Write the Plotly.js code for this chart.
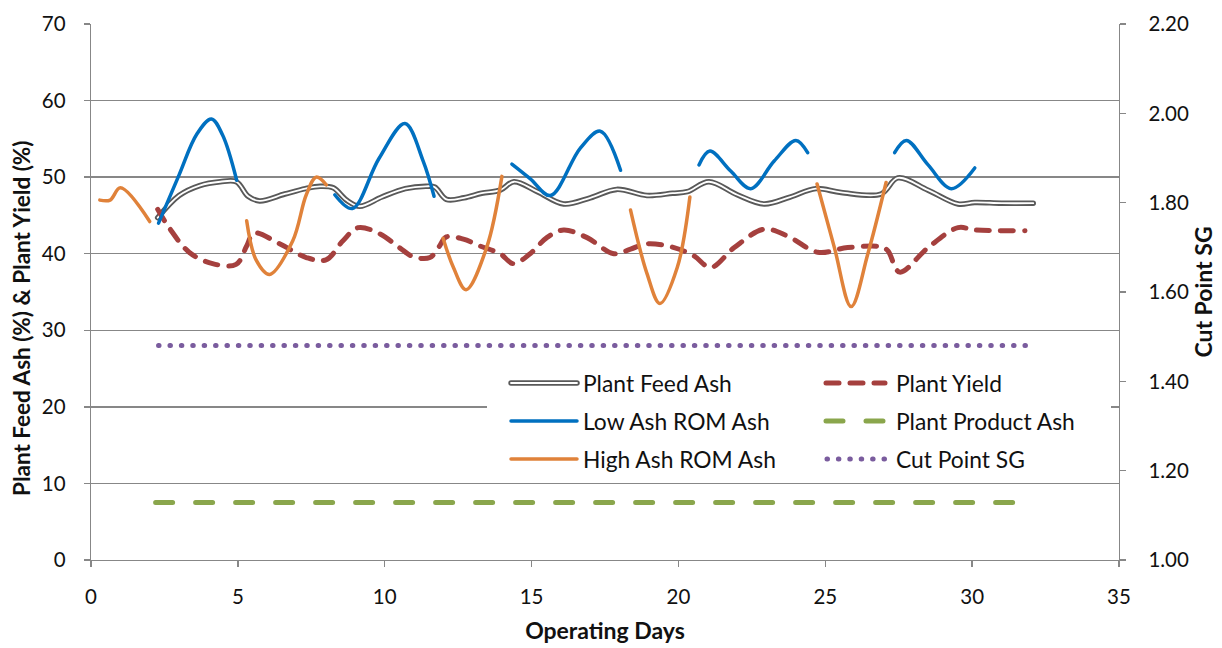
<!DOCTYPE html>
<html>
<head>
<meta charset="utf-8">
<script src="https://cdn.plot.ly/plotly-3.0.1.min.js"></script>
<style>
  html, body { margin: 0; padding: 0; background: #fff; }
  #chart { width: 1222px; height: 648px; }
  /* rounded ends on every series line and legend key */
  .js-line, .shapelayer path { stroke-linecap: round; }
</style>
</head>
<body>
<div id="chart"></div>
<script>
// ---- Plant Feed Ash (%) ----
const feedDays = [2.27, 3.0, 3.7, 4.4, 4.95, 5.35, 5.74, 6.6, 7.3, 7.8, 8.25, 8.7, 9.15, 9.9, 10.7, 11.4, 11.7, 12.1, 12.7, 13.3, 13.93, 14.4, 15.2, 16.09, 17.0, 17.9, 18.93, 19.8, 20.3, 21.04, 22.0, 22.92, 23.8, 24.68, 25.54, 26.9, 27.47, 28.5, 29.52, 30.09, 31.0, 32.08];
const feedAsh  = [44.7, 47.6, 48.9, 49.4, 49.4, 47.5, 46.9, 47.8, 48.5, 48.8, 48.6, 47.0, 46.2, 47.4, 48.5, 48.8, 48.7, 47.1, 47.3, 47.9, 48.3, 49.4, 48.1, 46.5, 47.3, 48.4, 47.6, 47.9, 48.1, 49.4, 47.7, 46.5, 47.4, 48.5, 48.0, 47.8, 49.9, 48.3, 46.5, 46.7, 46.6, 46.6];

// ---- Low Ash ROM Ash (%) : separate campaigns, null = no feed ----
const lowDays = [2.3, 3.0, 3.6, 4.1, 4.48, 4.96, null,
                 8.3, 8.9, 9.8, 10.69, 11.3, 11.68, null,
                 14.33, 14.95, 15.64, 16.66, 17.34, 18.03, null,
                 20.7, 21.07, 21.78, 22.46, 23.26, 24.0, 24.4, null,
                 27.36, 27.76, 28.5, 29.29, 30.09];
const lowAsh  = [44.0, 50.3, 55.6, 57.6, 55.5, 49.6, null,
                 47.7, 45.9, 52.4, 57.0, 52.2, 47.5, null,
                 51.7, 49.8, 47.6, 53.8, 56.0, 50.9, null,
                 51.6, 53.4, 50.8, 48.5, 52.1, 54.8, 53.2, null,
                 53.2, 54.8, 51.6, 48.5, 51.2];

// ---- High Ash ROM Ash (%) ----
const highDays = [0.3, 0.65, 1.0, 2.0, null,
                  5.3, 5.62, 6.08, 6.87, 7.33, 7.67, 8.01, null,
                  11.99, 12.34, 12.77, 13.47, 13.99, null,
                  18.37, 18.93, 19.37, 19.96, 20.39, null,
                  24.72, 25.31, 25.88, 26.45, 27.07];
const highAsh  = [47.0, 47.0, 48.6, 44.2, null,
                  44.3, 39.2, 37.3, 41.7, 47.7, 50.0, 49.0, null,
                  42.0, 38.2, 35.3, 40.8, 50.1, null,
                  45.7, 37.4, 33.5, 38.2, 47.4, null,
                  49.1, 40.8, 33.1, 40.0, 49.3];

// ---- Plant Yield (%) ----
const yieldDays = [2.27, 2.66, 3.34, 4.14, 4.94, 5.3, 5.55, 6.42, 7.33, 8.0, 8.58, 9.09, 9.83, 10.5, 10.97, 11.54, 11.83, 12.1, 12.68, 13.25, 13.93, 14.38, 14.95, 15.52, 16.09, 16.89, 17.8, 18.37, 18.93, 19.85, 20.53, 21.1, 21.9, 22.92, 23.72, 24.74, 25.76, 26.9, 27.13, 27.53, 28.5, 29.52, 30.09, 31.8];
const plantYield = [45.8, 43.4, 40.2, 38.7, 38.6, 41.0, 42.7, 41.3, 39.5, 39.2, 41.7, 43.4, 42.6, 40.8, 39.6, 39.5, 40.8, 42.2, 41.9, 41.0, 40.0, 38.7, 40.0, 42.1, 43.1, 42.1, 40.0, 40.6, 41.3, 40.8, 39.7, 38.2, 40.8, 43.2, 42.3, 40.2, 40.8, 40.9, 40.4, 37.6, 40.8, 43.4, 43.1, 43.0];

// ---- Plant Product Ash (%) ----
const productDays = [2.2, 31.6];
const productAsh  = [7.5, 7.5];

// ---- Cut Point SG (right axis) ----
const cutDays = [2.3, 31.9];
const cutSG   = [1.48, 1.48];

// ---- axis ticks ----
const xTicks  = [0, 5, 10, 15, 20, 25, 30, 35];
const yTicks  = [0, 10, 20, 30, 40, 50, 60, 70];
const y2Ticks = [1.0, 1.2, 1.4, 1.6, 1.8, 2.0, 2.2];

// key entries, filled row by row in two columns
const legendNames = ['Plant Feed Ash', 'Plant Yield', 'Low Ash ROM Ash', 'Plant Product Ash', 'High Ash ROM Ash', 'Cut Point SG'];

const C = {
  feed: '#595959', low: '#0070C0', high: '#E0823A', yld: '#A5403E',
  prod: '#8AA64C', cut: '#7A5C9E', grid: '#878787', text: '#111111'
};
const FONT = 'Lato, "Open Sans", sans-serif';

const W = 1222, H = 648;
const M = { l: 91, r: 103, t: 24, b: 88 };
const PW = W - M.l - M.r, PH = H - M.t - M.b;
// page pixel -> paper fraction helpers for the key box and side title
const px = v => (v - M.l) / PW;
const py = v => (H - M.b - v) / PH;

const traces = [
  { x: feedDays, y: feedAsh, mode: 'lines', line: { color: C.feed, width: 5.5, shape: 'spline', smoothing: 1 }, hoverinfo: 'skip' },
  { x: feedDays, y: feedAsh, mode: 'lines', line: { color: '#ffffff', width: 1.8, shape: 'spline', smoothing: 1 }, hoverinfo: 'skip' },
  { x: yieldDays, y: plantYield, mode: 'lines', line: { color: C.yld, width: 5, dash: '13px,11px', shape: 'spline', smoothing: 1 } },
  { x: lowDays, y: lowAsh, mode: 'lines', connectgaps: false, line: { color: C.low, width: 3.5, shape: 'spline', smoothing: 1 } },
  { x: highDays, y: highAsh, mode: 'lines', connectgaps: false, line: { color: C.high, width: 3.5, shape: 'spline', smoothing: 1 } },
  { x: productDays, y: productAsh, mode: 'lines', line: { color: C.prod, width: 5, dash: '17px,23px' } },
  { x: cutDays, y: cutSG, yaxis: 'y2', mode: 'lines', line: { color: C.cut, width: 5, dash: '0.5px,10.9px' } }
];

// key box
const rows = [383, 421, 459];
const col1 = { a: 511, b: 577, t: 581 };
const col2 = { a: 824, b: 885, t: 894 };
const keyLine = (a, b, row, line) => ({
  type: 'line', xref: 'paper', yref: 'paper', x0: px(a), x1: px(b), y0: py(row), y1: py(row), line: line, layer: 'above'
});
const shapes = [
  { type: 'rect', xref: 'paper', yref: 'paper', x0: px(487), x1: px(1111), y0: py(475), y1: py(366),
    fillcolor: '#ffffff', line: { width: 0 }, layer: 'above' },
  keyLine(col1.a, col1.b, rows[0], { color: C.feed, width: 5.5 }),
  keyLine(col1.a, col1.b, rows[0], { color: '#ffffff', width: 1.8 }),
  keyLine(col1.a, col1.b, rows[1], { color: C.low, width: 3.5 }),
  keyLine(col1.a, col1.b, rows[2], { color: C.high, width: 3.5 }),
  keyLine(col2.a + 2, col2.b, rows[0], { color: C.yld, width: 5, dash: '13px,11px' }),
  keyLine(col2.a + 2, col2.b, rows[1], { color: C.prod, width: 5, dash: '17px,23px' }),
  keyLine(col2.a + 3, col2.b, rows[2], { color: C.cut, width: 5, dash: '0.5px,10.9px' })
];

const annotations = legendNames.map((name, i) => {
  const col = i % 2 === 0 ? col1 : col2;
  const row = rows[Math.floor(i / 2)];
  return {
    text: name, xref: 'paper', yref: 'paper', x: px(col.t), y: py(row),
    xanchor: 'left', yanchor: 'middle', showarrow: false,
    font: { family: FONT, size: 22.8, color: C.text }
  };
});

const tickFont = { family: FONT, size: 20.5, color: C.text };
const titleFont = { family: FONT, size: 23, color: C.text, weight: 'bold' };

// left-hand axis title, set slightly below the plot centre
annotations.push({
  text: '<b>Plant Feed Ash (%) &amp; Plant Yield (%)</b>', xref: 'paper', yref: 'paper',
  x: px(21), y: py(319), xanchor: 'center', yanchor: 'middle', textangle: -90,
  showarrow: false, font: { family: FONT, size: 22.5, color: C.text, weight: 'bold' }
});

const layout = {
  width: W, height: H,
  margin: M,
  paper_bgcolor: '#ffffff', plot_bgcolor: '#ffffff',
  showlegend: false,
  xaxis: {
    range: [0, 35], tickvals: xTicks, ticktext: xTicks.map(String),
    showgrid: false, zeroline: false,
    showline: true, linecolor: C.grid, linewidth: 1.3,
    ticks: 'outside', ticklen: 6, tickwidth: 1.3, tickcolor: C.grid,
    tickfont: tickFont, ticklabelstandoff: 12,
    title: { text: '<b>Operating Days</b>', font: titleFont, standoff: 16 }
  },
  yaxis: {
    range: [0, 70], tickvals: yTicks, ticktext: yTicks.map(String),
    showgrid: true, gridcolor: C.grid, gridwidth: 1.3, zeroline: false,
    showline: true, linecolor: C.grid, linewidth: 1.3,
    ticks: 'outside', ticklen: 6, tickwidth: 1.3, tickcolor: C.grid,
    tickfont: tickFont, ticklabelstandoff: 14
  },
  yaxis2: {
    overlaying: 'y', side: 'right',
    range: [1.0, 2.2], tickvals: y2Ticks, ticktext: y2Ticks.map(v => v.toFixed(2)),
    showgrid: false, zeroline: false,
    showline: true, linecolor: C.grid, linewidth: 1.3,
    ticks: 'outside', ticklen: 6, tickwidth: 1.3, tickcolor: C.grid,
    tickfont: tickFont, ticklabelstandoff: 18,
    title: { text: '<b>Cut Point SG</b>', font: titleFont, standoff: 4 }
  },
  shapes: shapes,
  annotations: annotations
};

Plotly.newPlot('chart', traces, layout, { staticPlot: true, displayModeBar: false });
</script>
</body>
</html>
